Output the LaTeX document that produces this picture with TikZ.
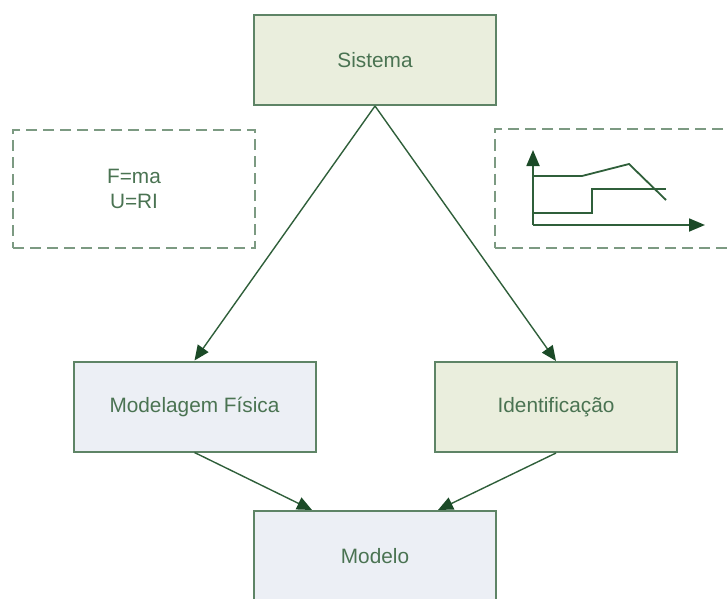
\documentclass[tikz,border=0pt]{standalone}
\usepackage{fontspec}
\setmainfont{Liberation Sans}
\usetikzlibrary{arrows.meta}
\definecolor{boxborder}{HTML}{5E8466}
\definecolor{dashborder}{HTML}{7C9A82}
\definecolor{txtgreen}{HTML}{4A7352}
\definecolor{arrowline}{HTML}{2F5F3A}
\definecolor{arrowhead}{HTML}{1B4A27}
\definecolor{fillgreen}{HTML}{EAEEDD}
\definecolor{fillblue}{HTML}{ECEFF5}
\tikzset{
  procbox/.style={draw=boxborder, line width=2pt, inner sep=0pt,
    minimum width=242pt, minimum height=90pt, text=txtgreen,
    font=\fontsize{20.8}{25}\selectfont},
  greenbox/.style={procbox, fill=fillgreen},
  bluebox/.style={procbox, fill=fillblue},
  dashbox/.style={draw=dashborder, line width=2pt, dash pattern=on 11pt off 6pt,
    inner sep=0pt, minimum width=242pt, minimum height=118pt, text=txtgreen,
    align=center, font=\fontsize{20.8}{25}\selectfont},
  flow/.style={draw=arrowline, line width=1.4pt,
    -{Triangle[length=15pt,width=13pt,fill=arrowhead,color=arrowhead]}},
  plotline/.style={draw=arrowline, line width=1.8pt},
  plotaxis/.style={draw=arrowline, line width=1.8pt,
    -{Triangle[length=16pt,width=13pt,fill=arrowhead,color=arrowhead]}}
}
\begin{document}
\begin{tikzpicture}[x=1pt,y=-1pt]
\useasboundingbox (0,0) rectangle (728,599);
\clip (0,0) rectangle (728,599);
% boxes
\node[greenbox] (sistema) at (375,60) {Sistema};
\node[bluebox] (fisica) at (194.5,406.5) {Modelagem Física};
\node[greenbox] (ident) at (556,407) {Identificação};
\node[bluebox, minimum height=110pt] (modelo) at (375,566) {};
\node[text=txtgreen, font=\fontsize{20.8}{25}\selectfont] (modelotxt) at (375,556) {Modelo};
% dashed boxes
\node[dashbox] (eqs) at (134,189) {F=ma\\U=RI};
\node[dashbox] (graph) at (616,188.5) {};
% arrows
\draw[flow] (sistema.south) -- (fisica.north);
\draw[flow] (sistema.south) -- (ident.north);
\coordinate (mleft) at ([xshift=-63pt]modelo.north);
\coordinate (mright) at ([xshift=63pt]modelo.north);
\draw[flow] (fisica.south) -- (mleft);
\draw[flow] (ident.south) -- (mright);
% small graph
\coordinate (o) at (533,225);
\coordinate (ytop) at (533,150);
\coordinate (xend) at (705,225);
\draw[plotaxis] (o) -- (ytop);
\draw[plotaxis] (o) -- (xend);
\coordinate (a1) at (533,176);
\coordinate (a2) at (582,176);
\coordinate (a3) at (629,164);
\coordinate (a4) at (666,200);
\draw[plotline] (a1) -- (a2) -- (a3) -- (a4);
\coordinate (b1) at (533,213);
\coordinate (b2) at (592,213);
\coordinate (b3) at (592,189);
\coordinate (b4) at (666,189);
\draw[plotline] (b1) -- (b2) -- (b3) -- (b4);
\end{tikzpicture}
\end{document}
